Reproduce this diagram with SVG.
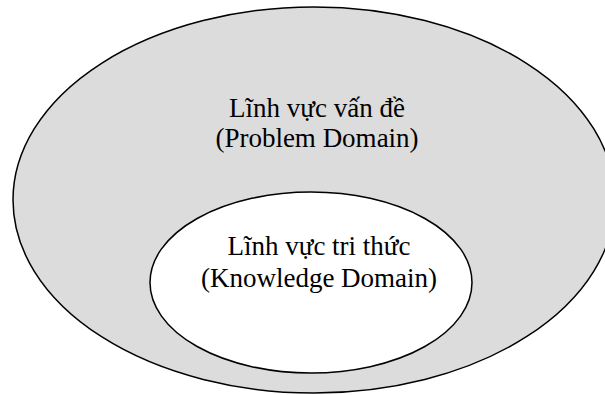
<svg xmlns="http://www.w3.org/2000/svg" width="605" height="395" viewBox="0 0 605 395">
<style>
.lbl{font-family:"Liberation Serif","Times New Roman",serif;font-size:27px;fill:#000;text-anchor:middle}
</style>
<rect width="605" height="395" fill="#fff"/>
<g id="problem-domain">
<ellipse cx="314" cy="200" rx="301" ry="193" fill="#dcdcdc" stroke="#000" stroke-width="1.5"/>
<text class="lbl" x="317" y="117">Lĩnh vực vấn đề</text>
<text class="lbl" x="317" y="147">(Problem Domain)</text>
</g>
<g id="knowledge-domain">
<ellipse cx="311" cy="282.5" rx="161" ry="90.5" fill="#fff" stroke="#000" stroke-width="1.5"/>
<text class="lbl" x="319" y="255">Lĩnh vực tri thức</text>
<text class="lbl" x="319" y="287">(Knowledge Domain)</text>
</g>
<g id="connectors"/>
</svg>
